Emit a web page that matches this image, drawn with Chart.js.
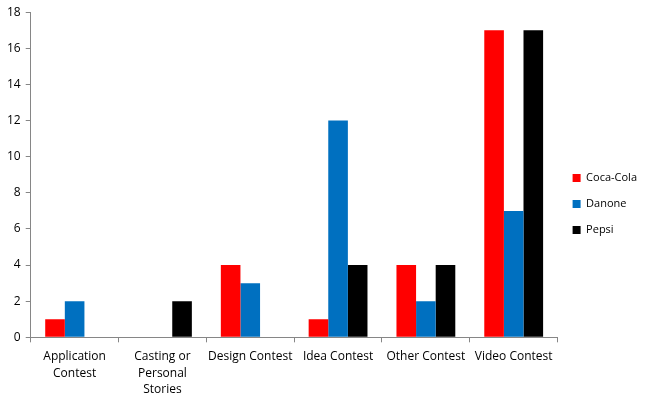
<!DOCTYPE html>
<html lang="en">
<head>
    <meta charset="UTF-8">
    <title>Contest Types by Brand</title>
    <script src="https://cdn.jsdelivr.net/npm/chart.js"></script>
    <style>
        html, body { margin: 0; padding: 0; background: #fff; }
        #wrap { width: 647px; height: 399px; }
    </style>
</head>
<body>
    <div id="wrap"><canvas id="contestChart"></canvas></div>

    <script>
        // Data
        const categories = [
            ['Application', 'Contest'],
            ['Casting or', 'Personal', 'Stories'],
            'Design Contest',
            'Idea Contest',
            'Other Contest',
            'Video Contest'
        ];
        const cocaCola = [1, 0, 4, 1, 4, 17];
        const danone = [2, 0, 3, 12, 2, 7];
        const pepsi = [0, 2, 0, 4, 4, 17];
        const yTicks = [0, 2, 4, 6, 8, 10, 12, 14, 16, 18];

        Chart.defaults.font.family = '"Open Sans", "DejaVu Sans", sans-serif';
        Chart.defaults.font.size = 12;
        Chart.defaults.color = '#000';

        const axisColor = '#868686';

        const ctx = document.getElementById('contestChart').getContext('2d');
        const contestChart = new Chart(ctx, {
            type: 'bar',
            data: {
                labels: categories,
                datasets: [
                    { label: 'Coca-Cola', data: cocaCola, backgroundColor: '#FF0000' },
                    { label: 'Danone', data: danone, backgroundColor: '#0070C0' },
                    { label: 'Pepsi', data: pepsi, backgroundColor: '#000000' }
                ]
            },
            options: {
                responsive: true,
                maintainAspectRatio: false,
                animation: false,
                layout: { padding: { top: 4, right: 0, left: 2, bottom: -5 } },
                datasets: { bar: { categoryPercentage: 0.67, barPercentage: 1.0 } },
                plugins: {
                    legend: {
                        position: 'right',
                        labels: { boxWidth: 8, boxHeight: 8, padding: 15, font: { size: 11 } }
                    },
                    tooltip: { enabled: false }
                },
                scales: {
                    x: {
                        grid: { drawOnChartArea: false, color: axisColor, tickLength: 5, offset: true },
                        border: { color: axisColor },
                        ticks: { maxRotation: 0, autoSkip: false, padding: 6, font: { lineHeight: 1.38 } }
                    },
                    y: {
                        min: 0,
                        max: 18,
                        afterBuildTicks: (axis) => { axis.ticks = yTicks.map(v => ({ value: v })); },
                        grid: { drawOnChartArea: false, color: axisColor, tickLength: 5 },
                        border: { color: axisColor },
                        ticks: { padding: 5 }
                    }
                }
            }
        });
    </script>
</body>
</html>
